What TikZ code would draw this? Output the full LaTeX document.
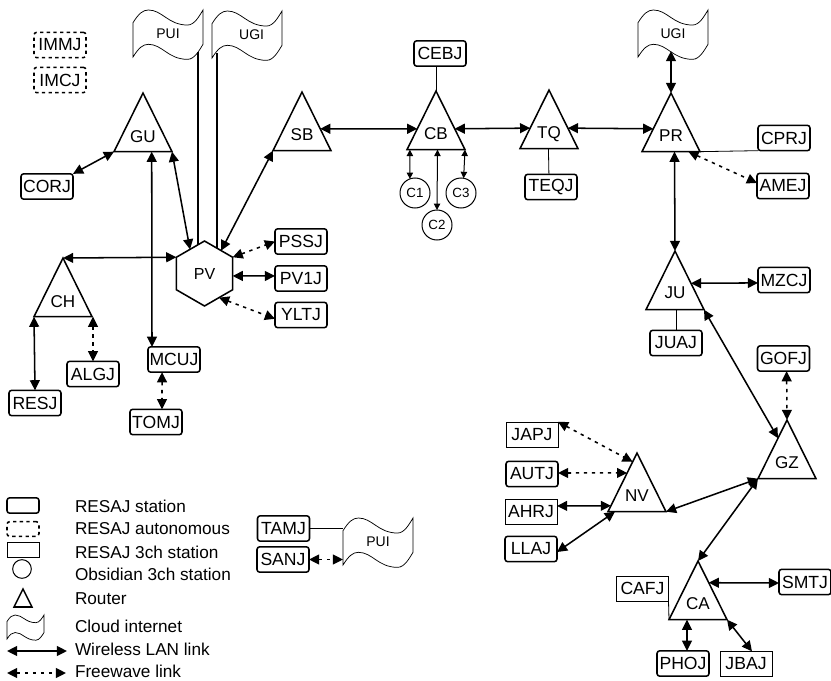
\documentclass[tikz,border=0pt]{standalone}
\usepackage{fontspec}
\setmainfont{Liberation Sans}
\usetikzlibrary{shapes.geometric,arrows.meta,calc}
\newcommand\rlabel[1]{\raisebox{3pt}{#1}}
\tikzset{
  x=0.75pt,y=-0.75pt,
  every node/.style={outer sep=0pt,inner sep=0pt},
  stationbox/.style={draw,line width=1.15pt,rounded corners=2pt,minimum width=39pt,minimum height=19pt,font=\fontsize{13.2}{14}\selectfont},
  autobox/.style={draw,line width=1.15pt,rounded corners=2pt,dash pattern=on 2.5pt off 2.5pt,minimum width=39pt,minimum height=19pt,font=\fontsize{13.2}{14}\selectfont},
  threebox/.style={draw,line width=0.5pt,minimum width=39pt,minimum height=19pt,font=\fontsize{13.2}{14}\selectfont},
  router/.style={draw,line width=1.15pt,isosceles triangle,isosceles triangle stretches,shape border rotate=90,minimum width=43.5pt,minimum height=44pt,anchor=apex,font=\fontsize{12.8}{14}\selectfont},
  obsidian/.style={draw,line width=0.75pt,circle,minimum size=22.5pt,font=\fontsize{10}{12}\selectfont},
  flagtext/.style={font=\fontsize{10.5}{12}\selectfont},
  flagline/.style={draw,line width=0.55pt},
  legendtext/.style={anchor=west,font=\fontsize{12.9}{15}\selectfont},
  wl/.style={line width=1.15pt,{Triangle[length=7.6pt,width=7.4pt]}-{Triangle[length=7.6pt,width=7.4pt]}},
  fw/.style={line width=1.15pt,dash pattern=on 2.5pt off 3.5pt,{Triangle[length=7.6pt,width=7.4pt]}-{Triangle[length=7.6pt,width=7.4pt]}},
  thinlink/.style={line width=0.75pt,{Triangle[length=4.8pt,width=4.8pt]}-{Triangle[length=4.8pt,width=4.8pt]}},
  wire/.style={line width=0.6pt},
  wirethick/.style={line width=0.9pt},
}
\newcommand\cloudflag[6]{%
  \node[flagtext,minimum width=#4*0.75pt,minimum height=#5*0.75pt] (#1) at (#2,#3) {#6};
  \draw[flagline,shift={(#1.north west)},x=#4*0.75pt,y=-#5*0.75pt]
    (0,.27) .. controls (.08,.08) and (.14,0) .. (.22,0)
    .. controls (.42,0) and (.5,.32) .. (.78,.32)
    .. controls (.88,.32) and (.95,.12) .. (1,0)
    -- (1,.73)
    .. controls (.95,.85) and (.88,1.05) .. (.78,1.05)
    .. controls (.5,1.05) and (.42,.73) .. (.22,.73)
    .. controls (.14,.73) and (.08,.81) .. (0,1) -- cycle;
}
\begin{document}
\begin{tikzpicture}
\useasboundingbox (0,0) rectangle (831,681);
% routers
\node[router] (GU) at (143,93) {\rlabel{GU}};
\node[router] (SB) at (302,92) {\rlabel{SB}};
\node[router] (CB) at (436,91) {\rlabel{CB}};
\node[router] (TQ) at (549,90) {\rlabel{TQ}};
\node[router] (PR) at (671,93) {\rlabel{PR}};
\node[router] (JU) at (675,251) {\rlabel{JU}};
\node[router] (CH) at (63,258) {\rlabel{CH}};
\node[router] (GZ) at (787,420) {\rlabel{GZ}};
\node[router] (NV) at (637,453) {\rlabel{NV}};
\node[router] (CA) at (698,561) {\rlabel{CA}};
\node[draw,line width=1.15pt,regular polygon,regular polygon sides=6,regular polygon rotate=30,minimum size=48.75pt,font=\fontsize{12}{14}\selectfont] (PV) at (204.5,273.5) {PV};
% flags
\cloudflag{PUIa}{168}{33.5}{70}{47}{PUI}
\cloudflag{UGIa}{247}{34.5}{70}{47}{\hspace*{7pt}\raisebox{-3pt}{UGI}}
\cloudflag{UGIb}{673}{33.5}{70}{47}{UGI}
\cloudflag{PUIb}{378}{541.5}{70}{47}{PUI}
% stations
\node[autobox] (IMMJ) at (60,45) {IMMJ};
\node[autobox] (IMCJ) at (60,80) {IMCJ};
\node[stationbox] (CORJ) at (47,186.5) {CORJ};
\node[stationbox] (CEBJ) at (440,53.5) {CEBJ};
\node[stationbox] (TEQJ) at (551,187) {TEQJ};
\node[stationbox] (CPRJ) at (784,138) {CPRJ};
\node[stationbox] (AMEJ) at (783,186) {AMEJ};
\node[stationbox] (MZCJ) at (784,280) {MZCJ};
\node[stationbox] (JUAJ) at (676,343) {JUAJ};
\node[stationbox] (GOFJ) at (783.5,358.5) {GOFJ};
\node[stationbox] (PSSJ) at (301,241.5) {PSSJ};
\node[stationbox] (PV1J) at (301,278.5) {PV1J};
\node[stationbox] (YLTJ) at (301,315) {YLTJ};
\node[stationbox] (MCUJ) at (174,359.5) {MCUJ};
\node[stationbox] (ALGJ) at (93,374) {ALGJ};
\node[stationbox] (RESJ) at (35,403) {RESJ};
\node[stationbox] (TOMJ) at (156,422) {TOMJ};
\node[stationbox] (TAMJ) at (283.5,528.5) {TAMJ};
\node[stationbox] (SANJ) at (283,559.5) {SANJ};
\node[threebox] (JAPJ) at (532,434.5) {JAPJ};
\node[stationbox] (AUTJ) at (532,474) {AUTJ};
\node[threebox] (AHRJ) at (531,511.5) {AHRJ};
\node[stationbox] (LLAJ) at (531,549) {LLAJ};
\node[threebox] (CAFJ) at (642.5,588.5) {CAFJ};
\node[stationbox] (SMTJ) at (805,582) {SMTJ};
\node[stationbox] (PHOJ) at (683,663.5) {PHOJ};
\node[threebox] (JBAJ) at (746,664) {JBAJ};
% obsidian
\node[obsidian] (C1) at (415,193) {C1};
\node[obsidian] (C2) at (437,225) {C2};
\node[obsidian] (C3) at (461,193) {C3};
% free ends
\coordinate (pfoot) at (198,52);
\coordinate (ufoot) at (217,53);
\coordinate (rfoot) at (671,51);
% left group
\draw[wl] (CORJ.north east) -- (GU.left corner);
\draw[wl] ($(GU.left corner)!.65!(GU.right corner)$) -- ($(MCUJ.north west)!.077!(MCUJ.north east)$);
\draw[wl] (GU.right corner) -- (PV.121);
\draw[wl] (SB.left corner) -- (PV.54);
\draw[wirethick] (pfoot) -- (pfoot |- PV.103);
\draw[wirethick] (ufoot) -- (ufoot |- PV.64);
\draw[wl] (CH.apex) -- (PV.150);
\draw[fw] (PV.30) -- (PSSJ.west);
\draw[wl] (PV.-5) -- ($(PV1J.north west)!.4!(PV1J.south west)$);
\draw[fw] (PV.-59) -- ($(YLTJ.north west)!.65!(YLTJ.south west)$);
\draw[wl] (CH.left corner) -- (RESJ.north);
\draw[fw] (ALGJ.north |- CH.right corner) -- (ALGJ.north);
\draw[fw] ($(MCUJ.south west)!.27!(MCUJ.south east)$) -- ($(TOMJ.north west)!.615!(TOMJ.north east)$);
% top chain
\draw[wl] ($(SB.apex)!.627!(SB.right corner)$) -- ($(CB.apex)!.644!(CB.left corner)$);
\draw[wl] ($(CB.apex)!.644!(CB.right corner)$) -- ($(TQ.apex)!.65!(TQ.left corner)$);
\draw[wl] ($(TQ.apex)!.65!(TQ.right corner)$) -- ($(PR.apex)!.61!(PR.left corner)$);
\draw[wire] (CB.apex) -- (CB.apex |- CEBJ.south);
\draw[wire] ($(TQ.left corner)!.49!(TQ.right corner)$) -- ($(TEQJ.north west)!.46!(TEQJ.north east)$);
\draw[thinlink] ($(CB.left corner)!.05!(CB.right corner)$) -- (C1.110);
\draw[thinlink] ($(CB.left corner)!.526!(CB.right corner)$) -- (C2.north);
\draw[thinlink] (CB.right corner) -- (C3.80);
% PR group
\draw[wl] (rfoot) -- (PR.apex);
\draw[wire] (PR.right corner) -- (CPRJ.south west);
\draw[fw] ($(PR.left corner)!.8!(PR.right corner)$) -- ($(AMEJ.north west)!.38!(AMEJ.south west)$);
\draw[wl] ($(PR.left corner)!.56!(PR.right corner)$) -- (JU.apex);
\draw[wl] ($(JU.apex)!.55!(JU.right corner)$) -- ($(MZCJ.north west)!.615!(MZCJ.south west)$);
\draw[wire] (JUAJ.north |- JU.left corner) -- (JUAJ.north);
\draw[wl] (JU.right corner) -- ($(GZ.apex)!.31!(GZ.left corner)$);
\draw[fw] ($(GOFJ.south west)!.56!(GOFJ.south east)$) -- (GZ.apex);
% NV group
\draw[fw] (JAPJ.north east) -- ($(NV.apex)!.15!(NV.left corner)$);
\draw[fw] ($(AUTJ.north east)!.46!(AUTJ.south east)$) -- ($(NV.apex)!.34!(NV.left corner)$);
\draw[wl] ($(AHRJ.north east)!.28!(AHRJ.south east)$) -- ($(NV.apex)!.9!(NV.left corner)$);
\draw[wl] ($(LLAJ.north east)!.62!(LLAJ.south east)$) -- ($(NV.left corner)!.12!(NV.right corner)$);
\draw[wl] (NV.right corner) -- (GZ.left corner);
\draw[wl] (GZ.left corner) -- (CA.apex);
% CA group
\draw[wl] ($(CA.apex)!.37!(CA.right corner)$) -- ($(SMTJ.north west)!.54!(SMTJ.south west)$);
\draw[wl] ($(CA.left corner)!.31!(CA.right corner)$) -- ($(PHOJ.north west)!.577!(PHOJ.north east)$);
\draw[wl] (CA.right corner) -- ($(JBAJ.north west)!.615!(JBAJ.north east)$);
\draw[wire] (CAFJ.south east) -- (CA.left corner);
% bottom middle
\draw[wire] (TAMJ.east) -- (TAMJ.east -| PUIb.west);
\draw[fw] (SANJ.east) -- (SANJ.east -| PUIb.west);
% legend
\node[draw,line width=1.15pt,rounded corners=2pt,minimum width=24pt,minimum height=11.5pt] (L1) at (23,505.5) {};
\node[draw,line width=1.15pt,rounded corners=2pt,dash pattern=on 2.5pt off 2.5pt,minimum width=24pt,minimum height=11pt] (L2) at (23,529) {};
\node[draw,line width=0.5pt,minimum width=24pt,minimum height=11.5pt] (L3) at (23,549.5) {};
\node[draw,line width=0.75pt,circle,minimum size=14pt] (L4) at (22,569) {};
\node[draw,line width=1.15pt,isosceles triangle,isosceles triangle stretches,shape border rotate=90,minimum width=13.5pt,minimum height=13.5pt,anchor=apex] (L5) at (23,589) {};
\cloudflag{L6}{25.5}{627}{37}{24}{}
\coordinate (L7a) at (7,651);
\coordinate (L7b) at (67,651);
\coordinate (L8a) at (7,673);
\coordinate (L8b) at (66,673);
\draw[wl] (L7a) -- (L7b);
\draw[fw] (L8a) -- (L8b);
\node[legendtext] (T1) at (75,506) {RESAJ station};
\node[legendtext] (T2) at (75,529) {RESAJ autonomous};
\node[legendtext] (T3) at (75,552) {RESAJ 3ch station};
\node[legendtext] (T4) at (75,574) {Obsidian 3ch station};
\node[legendtext] (T5) at (75,599) {Router};
\node[legendtext] (T6) at (75,626) {Cloud internet};
\node[legendtext] (T7) at (75,649) {Wireless LAN link};
\node[legendtext] (T8) at (75,671) {Freewave link};
\end{tikzpicture}
\end{document}
